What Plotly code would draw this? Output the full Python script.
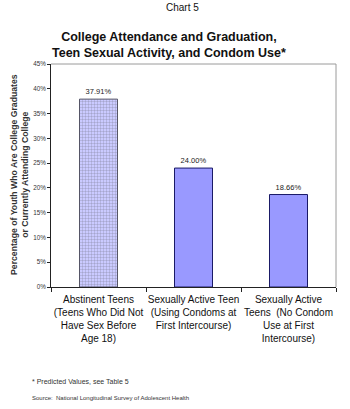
import plotly.graph_objects as go

categories = [
    "Abstinent Teens<br>(Teens Who Did Not<br>Have Sex Before<br>Age 18)",
    "Sexually Active Teen<br>(Using Condoms at<br>First Intercourse)",
    "Sexually Active<br>Teens  (No Condom<br>Use at First<br>Intercourse)",
]
values = [37.91, 24.00, 18.66]
y_ticks = [0, 5, 10, 15, 20, 25, 30, 35, 40, 45]
y_tick_labels = [f"{v}%" for v in y_ticks]

W, H = 350, 409
L, R, T, B = 51, 14, 64, 122
ph = H - T - B

def py(p):
    return (H - B - p) / ph

def px(p):
    return (p - L) / (W - L - R)

fig = go.Figure()
fig.add_trace(go.Bar(
    x=categories,
    y=values,
    width=0.4,
    marker=dict(
        color=["#cacaff", "#9999ff", "#9999ff"],
        line=dict(color=["#555566", "#1a1a66", "#1a1a66"], width=1),
        pattern=dict(shape=["+", "", ""], size=3, solidity=0.2,
                     fgcolor="#aeaefa", fillmode="overlay"),
    ),
    text=[f"{v:.2f}%" for v in values],
    textposition="outside",
    textfont=dict(family="Arial, Liberation Sans", size=7.5, color="#222"),
    cliponaxis=False,
))

fig.update_layout(
    width=W, height=H,
    margin=dict(l=L, r=R, t=T, b=B),
    plot_bgcolor="white", paper_bgcolor="white",
    showlegend=False,
    bargap=0.6,
    font=dict(family="Arial, Liberation Sans", color="#111"),
)
fig.update_yaxes(
    range=[0, 45], tickvals=y_ticks, ticktext=y_tick_labels,
    tickfont=dict(size=6.3, color="#333"), ticks="outside", ticklen=3,
    tickcolor="#222", showline=True, linecolor="#222", linewidth=1,
    showgrid=False, zeroline=False,
)
fig.update_xaxes(
    tickfont=dict(size=10, color="#111"), ticks="outside", ticklen=4,
    tickangle=0, ticklabelstandoff=3,
    tickcolor="#222", tickson="boundaries", showline=True, linecolor="#222",
    linewidth=1, showgrid=False,
)

# top and right grey border
fig.add_shape(type="path", xref="paper", yref="paper",
              path="M 0 1 L 1 1 L 1 0", line=dict(color="#9a9a9a", width=1))

fig.add_annotation(text="Chart 5", x=px(182), y=py(8), xref="paper", yref="paper",
                   showarrow=False, xanchor="center", yanchor="middle",
                   font=dict(size=10, color="#111", family="Arial, Liberation Sans"))
fig.add_annotation(text="<b>College Attendance and Graduation,<br>Teen Sexual Activity, and Condom Use*</b>",
                   x=px(169), y=py(44.5), xref="paper", yref="paper",
                   showarrow=False, xanchor="center", yanchor="middle",
                   font=dict(size=12.5, color="#111", family="Arial, Liberation Sans"))

fig.add_annotation(
    text="<b>Percentage of Youth Who Are College Graduates<br>or Currently Attending College</b>",
    x=px(19), y=py(175), xref="paper", yref="paper", showarrow=False,
    textangle=-90, xanchor="center", yanchor="middle",
    font=dict(size=8.7, color="#333", family="Arial, Liberation Sans"))

fig.add_annotation(text="* Predicted Values, see Table 5", x=px(30), y=py(381),
                   xref="paper", yref="paper", showarrow=False, xanchor="left", yanchor="middle",
                   font=dict(size=7, color="#333", family="Arial, Liberation Sans"))
fig.add_annotation(text="Source:  National Longitudinal Survey of Adolescent Health", x=px(30), y=py(398),
                   xref="paper", yref="paper", showarrow=False, xanchor="left", yanchor="middle",
                   font=dict(size=6, color="#333", family="Arial, Liberation Sans"))

fig.write_html("out.html")
